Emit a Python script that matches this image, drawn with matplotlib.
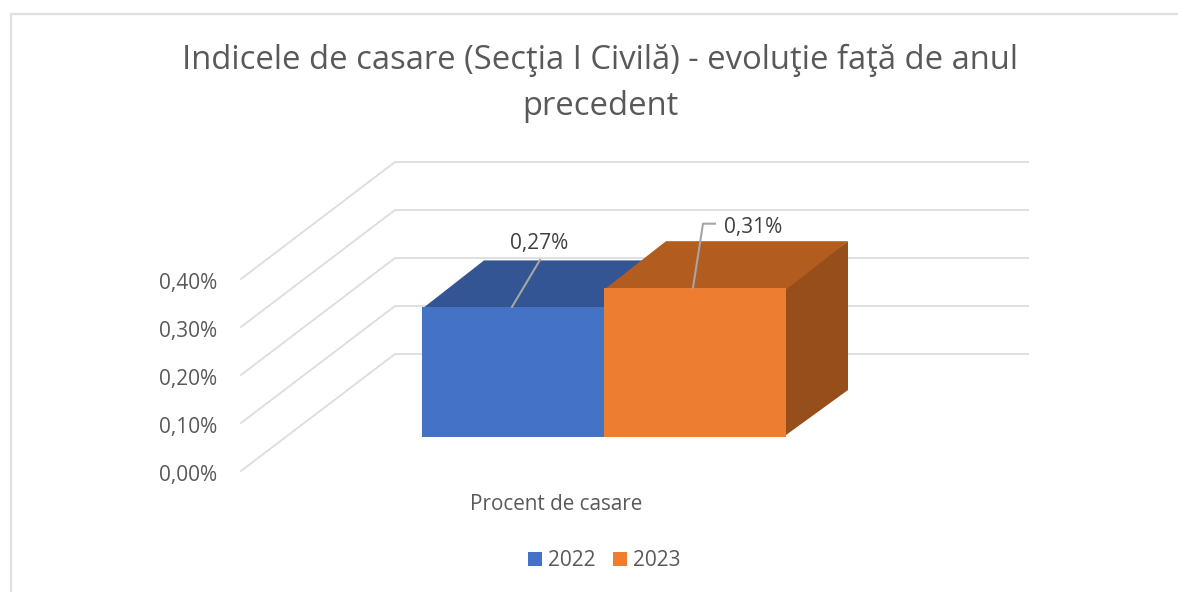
"""Oblique 3D column chart, drawn on a pixel-sized 2D axes."""
import matplotlib
matplotlib.use('Agg')
import matplotlib.pyplot as plt
from matplotlib.patches import Polygon, Rectangle

years = ['2022', '2023']
values = [0.27, 0.31]
value_labels = ['0,27%', '0,31%']
ticks = [0.0, 0.1, 0.2, 0.3, 0.4]
tick_labels = ['0,00%', '0,10%', '0,20%', '0,30%', '0,40%']
category = 'Procent de casare'
title = ['Indicele de casare (Secţia I Civilă) - evoluţie faţă de anul', 'precedent']

front_colors = ['#4472C4', '#ED7D31']
top_colors = ['#335593', '#B25C20']
side_colors = ['#2A4675', '#964E1B']
text_color = '#595959'
grid_color = '#DDDDDD'

plt.rcParams['font.family'] = ['Open Sans', 'DejaVu Sans']

W, H = 1178, 592
fig = plt.figure(figsize=(W / 100, H / 100), dpi=100)
ax = fig.add_axes([0, 0, 1, 1])
ax.set_xlim(0, W)
ax.set_ylim(H, 0)
ax.axis('off')


# value scale of the chart: px per percent on the front and back planes
def front_y(v):
    return 436.5 - v * 480


def back_y(v):
    return 354 - v * 480


# frame
ax.plot([11, 11, W], [H, 13.5, 13.5], color='#E0E0E0', lw=1.7, solid_joinstyle='miter')

# walls
for t, lab in zip(ticks, tick_labels):
    y = back_y(t)
    ax.plot([241, 395, 1028], [y + 117, y, y], color=grid_color, lw=1.3, zorder=1)
    ax.text(217, y + 121.5, lab, ha='right', va='center', fontsize=15, color=text_color)

# bars, the top and side run a little under the front so no seam shows
bar_left = 422
bar_w = 182
dx, dy = 62, -46.5
for i, v in enumerate(values):
    x0 = bar_left + i * bar_w
    x1 = x0 + bar_w
    y0 = front_y(0)
    y1 = front_y(v)
    z = 2 + i
    ax.add_patch(Polygon([(x1 - 2, y0), (x1 + dx, y0 + dy), (x1 + dx, y1 + dy), (x1 - 2, y1)],
                         fc=side_colors[i], ec='none', zorder=z))
    ax.add_patch(Polygon([(x0, y1 + 2), (x0 + dx, y1 + dy), (x1 + dx, y1 + dy), (x1, y1 + 2)],
                         fc=top_colors[i], ec='none', zorder=z))
    ax.add_patch(Rectangle((x0, y1), bar_w, y0 - y1, fc=front_colors[i], ec='none', zorder=z))

# data labels with leader lines
cx = [bar_left + (i + 0.5) * bar_w for i in range(2)]
ax.plot([cx[0] - 1, cx[0] + 27], [front_y(values[0]), front_y(values[0]) - 47], color='#A6A6A6', lw=1.5, zorder=5)
ax.plot([cx[1] - 2, cx[1] + 8, cx[1] + 20],
        [front_y(values[1]), front_y(values[1]) - 64, front_y(values[1]) - 64],
        color='#A6A6A6', lw=1.5, zorder=5)
ax.text(cx[0] + 26, 244, value_labels[0], ha='center', va='center', fontsize=15, color='#404040', zorder=6)
ax.text(cx[1] + 58, 228, value_labels[1], ha='center', va='center', fontsize=15, color='#404040', zorder=6)

ax.text(556, 505, category, ha='center', va='center', fontsize=14.9, color=text_color)
ax.text(600, 60, title[0], ha='center', va='center', fontsize=23.55, color=text_color)
ax.text(600, 106.5, title[1], ha='center', va='center', fontsize=23.55, color=text_color)

# legend
for x, year, col in zip([528, 613], years, front_colors):
    ax.add_patch(Rectangle((x, 552), 14, 14, fc=col, ec='none'))
    ax.text(x + 20, 560.5, year, ha='left', va='center', fontsize=15, color=text_color)

plt.savefig('out.png', dpi=100)
plt.close()
